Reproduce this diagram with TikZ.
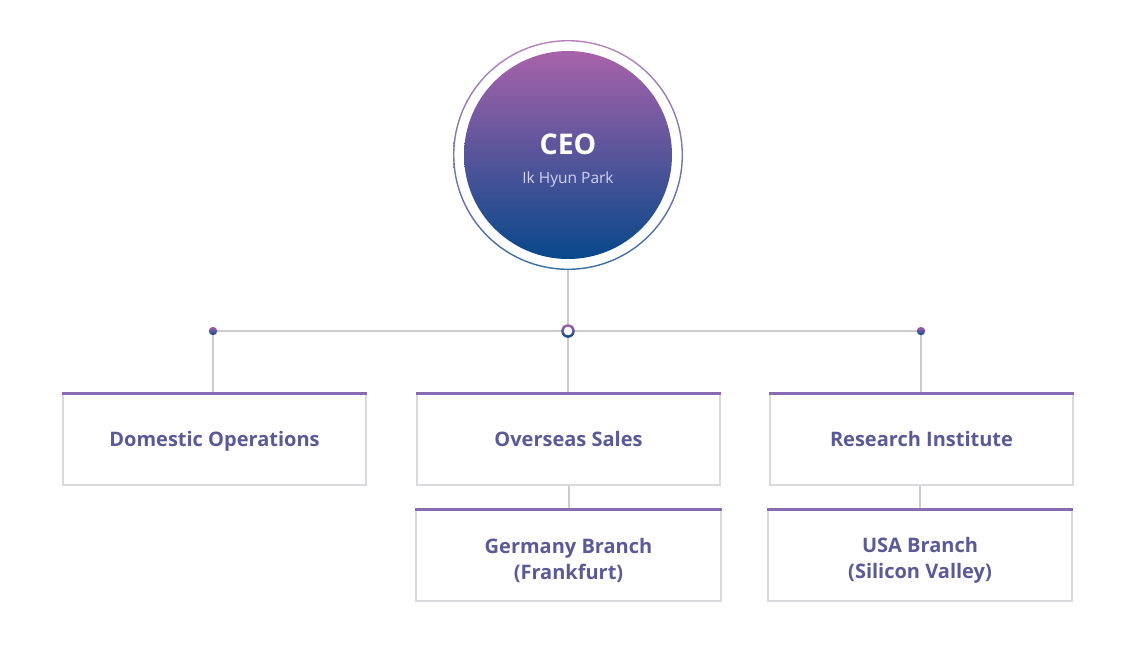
\documentclass[tikz,border=0pt]{standalone}
\usepackage{fontspec}
\setmainfont{Open Sans}
\definecolor{gtop}{HTML}{A862AA}
\definecolor{gbot}{HTML}{07488A}
\definecolor{linegray}{HTML}{CCCCCC}
\definecolor{boxgray}{HTML}{D9D9DE}
\definecolor{toppurple}{HTML}{8A6AB2}
\definecolor{txt}{HTML}{5A5A96}
\definecolor{subtxt}{HTML}{D2D2F0}
\tikzset{
  orgbox/.style={draw=boxgray, line width=1.3pt, fill=white, minimum width=303pt, minimum height=91pt,
    inner sep=0pt},
  boxtext/.style={inner sep=0pt, align=center, text=txt, font=\bfseries\fontsize{20}{26}\selectfont},
  oneline/.style={boxtext, text height=14.5pt, text depth=1pt},
  conn/.style={draw=linegray, line width=2pt},
  topbar/.style={draw=toppurple, line width=2.6pt},
}
\begin{document}
\begin{tikzpicture}[x=1pt,y=-1pt]
\useasboundingbox (0,0) rectangle (1137,648);
% CEO circle
\coordinate (c) at (568,155);
\shade[top color=gtop!80, bottom color=gbot!80, even odd rule] (c) circle[radius=115pt] circle[radius=113.6pt];
\shade[top color=gtop, bottom color=gbot] (c) circle[radius=104pt];
\node[circle, minimum size=230pt, inner sep=0pt] (ceo) at (c) {};
\node[text=white, font=\bfseries\fontsize{28.5}{30}\selectfont] (ceot) at (568,144) {CEO};
\node[text=subtxt, font=\fontsize{15.5}{18}\selectfont] (ceon) at (568,179) {Ik Hyun Park};
% hub line
\coordinate (hub) at (568,331);
\coordinate (dl) at (213,331);
\coordinate (dr) at (921,331);
% boxes
\node[orgbox] (dom) at (214.5,439.5) {};
\node[orgbox] (ovs) at (568.5,439.5) {};
\node[orgbox] (res) at (921.5,439.5) {};
\node[orgbox, minimum width=305pt] (ger) at (568.5,555.5) {};
\node[orgbox, minimum width=304pt] (usa) at (920,555.5) {};
\node[oneline] (domt) at (dom.center) {Domestic Operations};
\node[oneline] (ovst) at (ovs.center) {Overseas Sales};
\node[oneline] (rest) at (res.center) {Research Institute};
\node[boxtext] (gert) at ([yshift=-4.5pt]ger.center) {Germany Branch\\(Frankfurt)};
\node[boxtext] (usat) at ([yshift=-4.5pt]usa.center) {USA Branch\\(Silicon Valley)};
% connectors
\draw[conn] (ceo.south) -- (hub);
\draw[conn] (dl) -- (dr);
\draw[conn] (dl) -- (dl |- dom.north);
\draw[conn] (hub) -- (hub |- ovs.north);
\draw[conn] (dr) -- (dr |- res.north);
\draw[conn] (ovs.south) -- (ger.north);
\draw[conn] (res.south -| usa.north) -- (usa.north);
% top bars
\foreach \b in {dom,ovs,res,ger,usa}{
  \draw[topbar] (\b.north west) -- (\b.north east);
}
% dots
\shade[top color=gtop, bottom color=gbot] (dl) circle[radius=4.2pt];
\shade[top color=gtop, bottom color=gbot] (dr) circle[radius=4.2pt];
\shade[top color=gtop, bottom color=gbot, even odd rule] (hub) circle[radius=6.8pt] circle[radius=4.2pt];
\fill[white] (hub) circle[radius=4.2pt];
\end{tikzpicture}
\end{document}
